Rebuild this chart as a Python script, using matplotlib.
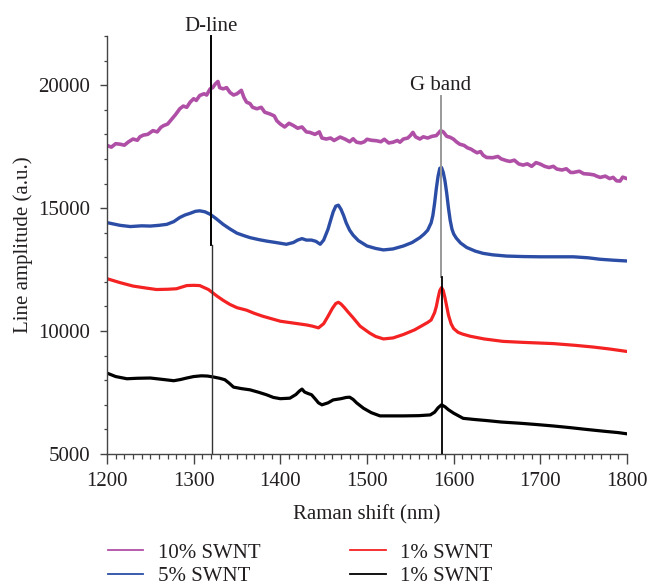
import matplotlib
matplotlib.use("Agg")
import matplotlib.pyplot as plt
from matplotlib.ticker import MultipleLocator

plt.rcParams['font.family'] = ['Liberation Serif', 'DejaVu Serif']

# ---- data ----
x_mag = [1200, 1205, 1210, 1215, 1220, 1225, 1230, 1235, 1238, 1242, 1247, 1253, 1258, 1262,
         1265, 1270, 1275, 1279, 1284, 1288, 1292, 1296, 1300, 1303, 1307, 1312, 1315, 1319,
         1322, 1325, 1328, 1330, 1334, 1338, 1342, 1346, 1350, 1355, 1358, 1361, 1365, 1368,
         1373, 1378, 1382, 1388, 1393, 1396, 1400, 1405, 1410, 1415, 1420, 1425, 1430, 1434,
         1440, 1445, 1448, 1453, 1458, 1462, 1469, 1475, 1480, 1484, 1488, 1493, 1497, 1500,
         1505, 1511, 1516, 1520, 1525, 1530, 1535, 1538, 1542, 1547, 1550, 1553, 1556, 1561,
         1565, 1570, 1575, 1580, 1585, 1588, 1592, 1596, 1600, 1603, 1607, 1612, 1616, 1620,
         1623, 1627, 1631, 1634, 1638, 1645, 1651, 1655, 1661, 1665, 1670, 1675, 1680, 1685,
         1690, 1695, 1700, 1705, 1710, 1715, 1719, 1725, 1730, 1735, 1738, 1745, 1750, 1757,
         1762, 1765, 1769, 1775, 1780, 1784, 1788, 1792, 1795, 1800]
y_mag = [17550, 17480, 17620, 17600, 17560, 17700, 17810, 17760, 17900, 17970, 18000, 18150, 18100, 18280,
         18350, 18420, 18630, 18800, 19040, 19150, 19100, 19310, 19450, 19380, 19580, 19650, 19600, 19850,
         19900, 20050, 20150, 19900, 19850, 19900, 19700, 19600, 19650, 19790, 19500, 19310, 19250, 19100,
         19040, 19100, 18900, 18830, 18750, 18550, 18420, 18300, 18450, 18360, 18250, 18300, 18100, 18080,
         18000, 18100, 17850, 17810, 17850, 17750, 17890, 17800, 17700, 17820, 17680, 17650, 17700, 17800,
         17760, 17740, 17700, 17800, 17650, 17680, 17750, 17680, 17810, 17850, 17950, 18080, 17900, 17810,
         17900, 17850, 17920, 17950, 18150, 18100, 17920, 17880, 17800, 17700, 17600, 17550, 17450, 17400,
         17330, 17250, 17300, 17150, 17060, 17050, 17100, 17000, 16930, 16900, 16950, 16800, 16750, 16800,
         16700, 16850, 16790, 16700, 16650, 16700, 16590, 16550, 16600, 16450, 16450, 16500, 16400, 16380,
         16350, 16300, 16250, 16300, 16200, 16250, 16110, 16100, 16260, 16200]

x_blue = [1200, 1215, 1227, 1240, 1250, 1260, 1269, 1277, 1284, 1290, 1296, 1302, 1307, 1313, 1319,
          1326, 1334, 1342, 1350, 1358, 1365, 1375, 1384, 1395, 1407, 1415, 1420, 1425, 1430, 1436,
          1441, 1446, 1450, 1455, 1458, 1461, 1464, 1467, 1470, 1473, 1476, 1480, 1484, 1490, 1500,
          1510, 1519, 1530, 1542, 1552, 1561, 1566, 1570, 1574, 1576, 1578, 1580, 1582, 1584, 1586,
          1588, 1590, 1592, 1594, 1596, 1598, 1600, 1603, 1608, 1615, 1625, 1634, 1645, 1661, 1680,
          1700, 1720, 1738, 1755, 1769, 1785, 1800]
y_blue = [14410, 14300, 14250, 14280, 14270, 14300, 14340, 14450, 14620, 14720, 14790, 14870, 14890, 14850, 14750,
          14570, 14340, 14150, 13980, 13880, 13800, 13720, 13660, 13600, 13530, 13600, 13700, 13760, 13700, 13700,
          13650, 13530, 13700, 14140, 14500, 14850, 15080, 15120, 14950, 14700, 14400, 14100, 13900, 13680, 13460,
          13360, 13300, 13340, 13460, 13600, 13800, 13950, 14100, 14400, 14700, 15200, 15800, 16300, 16620, 16650,
          16450, 16100, 15600, 15000, 14500, 14150, 13950, 13780, 13580, 13400, 13250, 13160, 13100, 13050, 13030,
          13020, 13020, 13020, 12980, 12920, 12880, 12850]

x_red = [1200, 1215, 1230, 1245, 1257, 1270, 1280, 1292, 1300, 1307, 1317, 1327, 1334, 1342, 1350,
         1361, 1370, 1380, 1390, 1400, 1410, 1420, 1430, 1437, 1444, 1450, 1455, 1460, 1464, 1467,
         1470, 1474, 1478, 1484, 1492, 1503, 1510, 1519, 1530, 1542, 1555, 1565, 1570, 1574, 1578,
         1580, 1582, 1584, 1586, 1588, 1590, 1592, 1594, 1597, 1600, 1605, 1610, 1619, 1635, 1657,
         1680, 1715, 1740, 1761, 1780, 1800]
y_red = [12130, 11970, 11830, 11750, 11690, 11700, 11720, 11850, 11860, 11850, 11690, 11420, 11250, 11080, 10950,
         10850, 10720, 10600, 10500, 10400, 10350, 10300, 10250, 10200, 10130, 10300, 10600, 10920, 11120, 11170,
         11100, 10950, 10780, 10540, 10200, 9920, 9780, 9680, 9720, 9860, 10050, 10250, 10350, 10450, 10750,
         11000, 11350, 11650, 11770, 11650, 11350, 11000, 10650, 10300, 10100, 9950, 9880, 9790, 9680, 9580,
         9540, 9490, 9420, 9350, 9270, 9170]

x_black = [1200, 1210, 1223, 1235, 1250, 1265, 1277, 1285, 1292, 1300, 1309, 1316, 1323, 1330, 1336,
           1341, 1346, 1355, 1365, 1375, 1384, 1392, 1400, 1411, 1418, 1422, 1425, 1428, 1432, 1436,
           1440, 1444, 1448, 1455, 1461, 1470, 1476, 1480, 1484, 1488, 1496, 1505, 1515, 1530, 1542,
           1560, 1573, 1578, 1582, 1586, 1590, 1594, 1600, 1611, 1625, 1638, 1655, 1677, 1695, 1715,
           1735, 1753, 1775, 1790, 1800]
y_black = [8290, 8150, 8060, 8080, 8090, 8030, 7980, 8030, 8090, 8150, 8180, 8170, 8130, 8080, 8020,
           7880, 7720, 7660, 7610, 7510, 7410, 7300, 7250, 7270, 7420, 7560, 7640, 7520, 7460, 7410,
           7250, 7080, 7000, 7080, 7200, 7250, 7300, 7310, 7220, 7080, 6860, 6680, 6550, 6550, 6550,
           6560, 6590, 6700, 6880, 7000, 6920, 6800, 6660, 6450, 6400, 6360, 6300, 6250, 6200, 6140,
           6070, 6000, 5920, 5870, 5820]

labels = ["10% SWNT", "5% SWNT", "1% SWNT", "1% SWNT"]
colors = ["#B04FA6", "#2B4DA5", "#F42222", "#000000"]

d_line_x = 1320
g_band_x = 1585

# ---- figure ----
W, H = 651, 586
fig = plt.figure(figsize=(W / 100, H / 100), dpi=100)
ax = fig.add_axes([107 / W, 1 - 454 / H, (627 - 107) / W, (454 - 36) / H])

series = [(x_mag, y_mag, 2.6), (x_blue, y_blue, 2.4), (x_red, y_red, 2.3), (x_black, y_black, 2.3)]
for (xs, ys, lw), c, lab in zip(series, colors, labels):
    ax.plot(xs, ys, color=c, lw=lw, label=lab, solid_joinstyle='round')

# marker lines
ax.plot([d_line_x, d_line_x], [13500, 22000], color="black", lw=1.4, clip_on=False, zorder=5)
ax.plot([d_line_x + 1.5, d_line_x + 1.5], [5000, 13500], color="#333333", lw=1.0, zorder=5)
ax.plot([g_band_x, g_band_x], [12200, 19570], color="#999999", lw=1.4, zorder=5)
ax.plot([g_band_x + 1, g_band_x + 1], [5000, 12200], color="black", lw=1.3, zorder=5)

ax.text(d_line_x, 22200, "D-line", ha="center", va="baseline", fontsize=15, color="#231F20")
ax.text(g_band_x, 19820, "G band", ha="center", va="baseline", fontsize=15, color="#231F20")

ax.set_xlim(1200, 1800)
ax.set_ylim(5000, 22000)
ax.xaxis.set_major_locator(MultipleLocator(100))
ax.xaxis.set_minor_locator(MultipleLocator(10))
ax.yaxis.set_major_locator(MultipleLocator(5000))
ax.yaxis.set_minor_locator(MultipleLocator(1000))

for s in ["top", "right"]:
    ax.spines[s].set_visible(False)
for s in ["left", "bottom"]:
    ax.spines[s].set_color("#444444")
    ax.spines[s].set_linewidth(1.0)

ax.tick_params(axis="both", which="both", direction="out", colors="#444444",
               labelcolor="#231F20", labelsize=15)
ax.tick_params(axis="x", which="major", length=7, width=1.0, pad=6)
ax.tick_params(axis="x", which="minor", length=3.5, width=0.9)
ax.tick_params(axis="y", which="major", length=5, width=1.0, pad=7)
ax.tick_params(axis="y", which="minor", length=2.5, width=0.9)

ax.set_xlabel("Raman shift (nm)", fontsize=15, color="#231F20", labelpad=10)
ax.set_ylabel("Line amplitude (a.u.)", fontsize=15, color="#231F20", labelpad=4)

leg_handles = [plt.Line2D([], [], color=c, lw=1.3) for c in colors]
fig.legend(leg_handles, labels, loc="upper left", bbox_to_anchor=(108 / W, 1 - 543 / H),
           ncol=2, frameon=False, fontsize=15, handlelength=1.7, handletextpad=0.7,
           columnspacing=4.3, labelspacing=0.2, borderpad=0, borderaxespad=0,
           labelcolor="#231F20")

fig.savefig("out.png", dpi=100)
